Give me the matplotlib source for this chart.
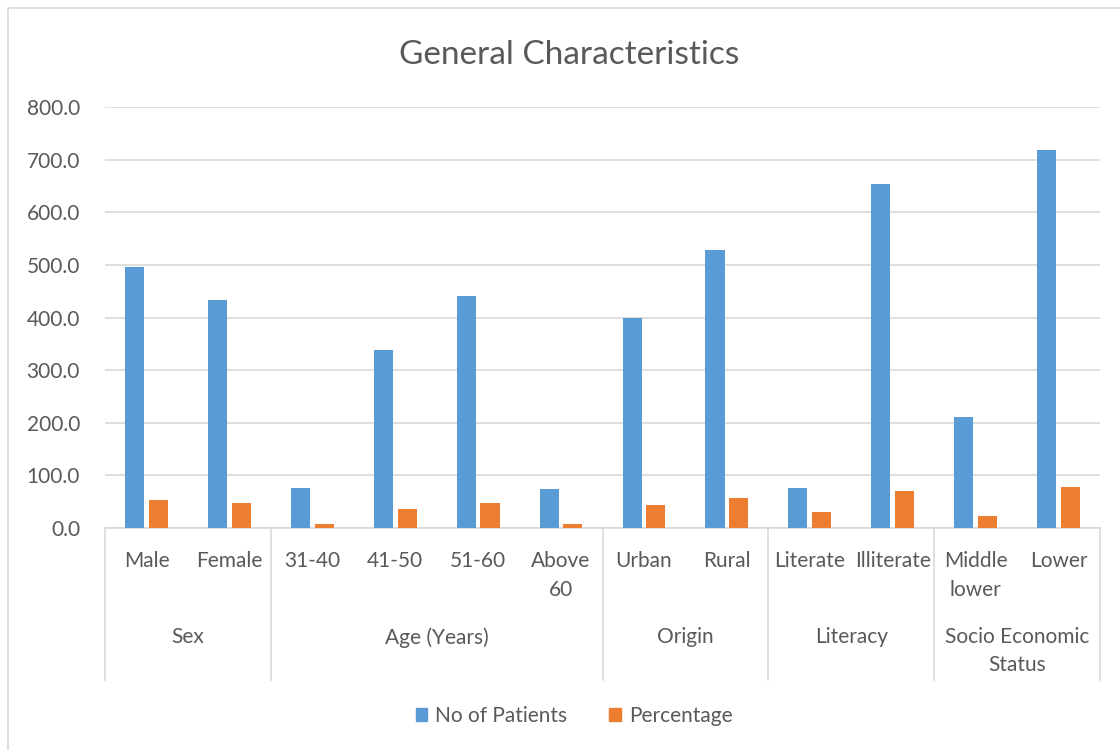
import matplotlib
matplotlib.use("Agg")
import matplotlib.pyplot as plt
import matplotlib.transforms as mtransforms
from matplotlib.patches import Rectangle, Patch
from matplotlib.lines import Line2D
import numpy as np

# data
categories = ["Male", "Female", "31-40", "41-50", "51-60", "Above\n60",
              "Urban", "Rural", "Literate", "Illiterate", "Middle\nlower", "Lower"]
patients = [496, 434, 76, 339, 440, 74, 400, 529, 76, 654, 211, 718]
percentage = [53.3, 46.7, 8.2, 36.5, 47.4, 8.0, 43.1, 56.9, 29.6, 70.4, 22.7, 77.3]
groups = ["Sex", "Age (Years)", "Origin", "Literacy", "Socio Economic\nStatus"]
group_sizes = [2, 4, 2, 2, 2]

C_BLUE = "#5B9BD5"
C_ORANGE = "#ED7D31"
C_GRID = "#D9D9D9"
C_TEXT = "#595959"
FONT = "Lato"
FS = 15

W, H = 1120, 750
fig = plt.figure(figsize=(W / 100, H / 100), dpi=100)
fig.patch.set_facecolor("white")

# outer chart border (only top/left visible in reference)
fig.add_artist(Rectangle((8 / W, -0.1), 1.2, (H - 8) / H + 0.1, transform=fig.transFigure,
                         facecolor="none", edgecolor=C_GRID, lw=1.2))

ax = fig.add_axes([105 / W, (H - 528) / H, 995 / W, 421 / H])
x = np.arange(len(categories))
bw, off = 0.23, 0.143
ax.bar(x - off, patients, bw, color=C_BLUE, zorder=3, label="No of Patients")
ax.bar(x + off, percentage, bw, color=C_ORANGE, zorder=3, label="Percentage")

ax.set_xlim(-0.5, len(categories) - 0.5)
ax.set_ylim(0, 800)
ax.set_yticks(np.arange(0, 801, 100))
ax.set_yticklabels([f"{v:.1f}" for v in np.arange(0, 801, 100)],
                   fontsize=FS, color=C_TEXT, fontfamily=FONT)
ax.tick_params(axis="y", length=0, pad=18)
ax.set_xticks([])
ax.grid(axis="y", color=C_GRID, lw=1.2, zorder=0)
for s in ["top", "right", "left"]:
    ax.spines[s].set_visible(False)
ax.spines["bottom"].set_color(C_GRID)
ax.spines["bottom"].set_linewidth(1.2)

# category labels below axis (data x, figure y)
trans = mtransforms.blended_transform_factory(ax.transData, fig.transFigure)
for xi, lab in zip(x, categories):
    ax.text(xi, 1 - 551 / H, lab, transform=trans, ha="center", va="top",
            fontsize=FS, color=C_TEXT, fontfamily=FONT, linespacing=1.55)

# group labels and separators
start = 0
bounds = [-0.5]
for g, n in zip(groups, group_sizes):
    mid = start + (n - 1) / 2
    ax.text(mid, 1 - 627 / H, g, transform=trans, ha="center", va="top",
            fontsize=FS, color=C_TEXT, fontfamily=FONT, linespacing=1.5)
    start += n
    bounds.append(start - 0.5)
for b in bounds:
    fig.add_artist(Line2D([b, b], [1 - 528 / H, 1 - 680 / H], transform=trans,
                          color=C_GRID, lw=1.2))

fig.text(569 / W, 1 - 55 / H, "General Characteristics", ha="center", va="center",
         fontsize=24, color=C_TEXT, fontfamily=FONT)

handles = [Patch(color=C_BLUE, label="No of Patients"),
           Patch(color=C_ORANGE, label="Percentage")]
leg = fig.legend(handles=handles, loc="center", bbox_to_anchor=(574 / W, 1 - 716 / H),
                 ncol=2, frameon=False, handlelength=0.55, handleheight=0.55,
                 handletextpad=0.4, columnspacing=2.0,
                 prop={"family": FONT, "size": FS})
for t in leg.get_texts():
    t.set_color(C_TEXT)

fig.savefig("out.png", dpi=100, facecolor="white")
